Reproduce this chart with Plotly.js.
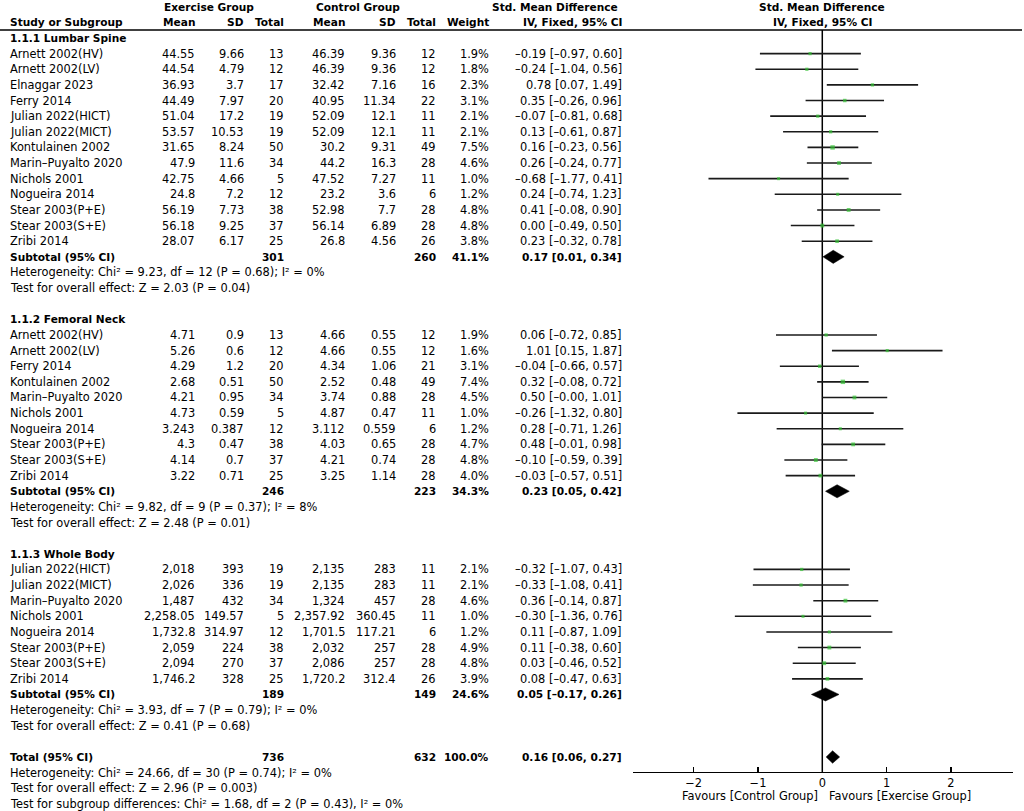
<!DOCTYPE html>
<html><head><meta charset="utf-8">
<script src="https://cdn.plot.ly/plotly-3.0.1.min.js"></script>
<style>html,body{margin:0;padding:0;background:#fff}#chart{width:1024px;height:811px}</style>
</head><body><div id="chart"></div>
<script>
// ---------- DATA ----------
const groupTitles = ["1.1.1 Lumbar Spine", "1.1.2 Femoral Neck", "1.1.3 Whole Body"];

const names1 = ["Arnett 2002(HV)","Arnett 2002(LV)","Elnaggar 2023","Ferry 2014","Julian 2022(HICT)","Julian 2022(MICT)","Kontulainen 2002","Marin–Puyalto 2020","Nichols 2001","Nogueira 2014","Stear 2003(P+E)","Stear 2003(S+E)","Zribi 2014"];
const exMean1 = ["44.55","44.54","36.93","44.49","51.04","53.57","31.65","47.9","42.75","24.8","56.19","56.18","28.07"];
const exSD1 = ["9.66","4.79","3.7","7.97","17.2","10.53","8.24","11.6","4.66","7.2","7.73","9.25","6.17"];
const exN1 = [13,12,17,20,19,19,50,34,5,12,38,37,25];
const ctMean1 = ["46.39","46.39","32.42","40.95","52.09","52.09","30.2","44.2","47.52","23.2","52.98","56.14","26.8"];
const ctSD1 = ["9.36","9.36","7.16","11.34","12.1","12.1","9.31","16.3","7.27","3.6","7.7","6.89","4.56"];
const ctN1 = [12,12,16,22,11,11,49,28,11,6,28,28,26];
const weight1 = [1.9,1.8,2.3,3.1,2.1,2.1,7.5,4.6,1.0,1.2,4.8,4.8,3.8];
const smd1 = [-0.19,-0.24,0.78,0.35,-0.07,0.13,0.16,0.26,-0.68,0.24,0.41,0.00,0.23];
const lo1 = [-0.97,-1.04,0.07,-0.26,-0.81,-0.61,-0.23,-0.24,-1.77,-0.74,-0.08,-0.49,-0.32];
const hi1 = [0.60,0.56,1.49,0.96,0.68,0.87,0.56,0.77,0.41,1.23,0.90,0.50,0.78];

const names2 = ["Arnett 2002(HV)","Arnett 2002(LV)","Ferry 2014","Kontulainen 2002","Marin–Puyalto 2020","Nichols 2001","Nogueira 2014","Stear 2003(P+E)","Stear 2003(S+E)","Zribi 2014"];
const exMean2 = ["4.71","5.26","4.29","2.68","4.21","4.73","3.243","4.3","4.14","3.22"];
const exSD2 = ["0.9","0.6","1.2","0.51","0.95","0.59","0.387","0.47","0.7","0.71"];
const exN2 = [13,12,20,50,34,5,12,38,37,25];
const ctMean2 = ["4.66","4.66","4.34","2.52","3.74","4.87","3.112","4.03","4.21","3.25"];
const ctSD2 = ["0.55","0.55","1.06","0.48","0.88","0.47","0.559","0.65","0.74","1.14"];
const ctN2 = [12,12,21,49,28,11,6,28,28,28];
const weight2 = [1.9,1.6,3.1,7.4,4.5,1.0,1.2,4.7,4.8,4.0];
const smd2 = [0.06,1.01,-0.04,0.32,0.50,-0.26,0.28,0.48,-0.10,-0.03];
const lo2 = [-0.72,0.15,-0.66,-0.08,-0.00,-1.32,-0.71,-0.01,-0.59,-0.57];
const hi2 = [0.85,1.87,0.57,0.72,1.01,0.80,1.26,0.98,0.39,0.51];

const names3 = ["Julian 2022(HICT)","Julian 2022(MICT)","Marin–Puyalto 2020","Nichols 2001","Nogueira 2014","Stear 2003(P+E)","Stear 2003(S+E)","Zribi 2014"];
const exMean3 = ["2,018","2,026","1,487","2,258.05","1,732.8","2,059","2,094","1,746.2"];
const exSD3 = ["393","336","432","149.57","314.97","224","270","328"];
const exN3 = [19,19,34,5,12,38,37,25];
const ctMean3 = ["2,135","2,135","1,324","2,357.92","1,701.5","2,032","2,086","1,720.2"];
const ctSD3 = ["283","283","457","360.45","117.21","257","257","312.4"];
const ctN3 = [11,11,28,11,6,28,28,26];
const weight3 = [2.1,2.1,4.6,1.0,1.2,4.9,4.8,3.9];
const smd3 = [-0.32,-0.33,0.36,-0.30,0.11,0.11,0.03,0.08];
const lo3 = [-1.07,-1.08,-0.14,-1.36,-0.87,-0.38,-0.46,-0.47];
const hi3 = [0.43,0.41,0.87,0.76,1.09,0.60,0.52,0.63];

const subExN = [301,246,189];
const subCtN = [260,223,149];
const subWeight = ["41.1%","34.3%","24.6%"];
const subSmd = [0.17,0.23,0.05];
const subLo = [0.01,0.05,-0.17];
const subHi = [0.34,0.42,0.26];
const subHet = [
  "Heterogeneity: Chi² = 9.23, df = 12 (P = 0.68); I² = 0%",
  "Heterogeneity: Chi² = 9.82, df = 9 (P = 0.37); I² = 8%",
  "Heterogeneity: Chi² = 3.93, df = 7 (P = 0.79); I² = 0%"];
const subTest = [
  "Test for overall effect: Z = 2.03 (P = 0.04)",
  "Test for overall effect: Z = 2.48 (P = 0.01)",
  "Test for overall effect: Z = 0.41 (P = 0.68)"];

const totExN = 736, totCtN = 632, totWeight = "100.0%";
const totSmd = 0.16, totLo = 0.06, totHi = 0.27;
const totNotes = [
  "Heterogeneity: Chi² = 24.66, df = 30 (P = 0.74); I² = 0%",
  "Test for overall effect: Z = 2.96 (P = 0.003)",
  "Test for subgroup differences: Chi² = 1.68, df = 2 (P = 0.43), I² = 0%"];

const tickVals = [-2,-1,0,1,2];
const favLeft = "Favours [Control Group]";
const favRight = "Favours [Exercise Group]";

// ---------- LAYOUT CONSTANTS ----------
const W = 1024, H = 811;
const ROW0 = 38, ROWH = 15.63;
const FONT = 'DejaVu Sans';
const REG = 11.4, BOLDS = 10.6;
const NAME_X = 10;
const col = {exMean:194.5, exSD:244.3, exN:284.3, ctMean:344.5, ctSD:396, ctN:435.7, w:489, ci:622};
const GREEN = '#35c235', LINEC = '#1a1a1a';

const yTop = -ROW0 / ROWH;
const yBot = (H - ROW0) / ROWH;

const annotations = [];
function ann(text, px, row, anchor, bold) {
  annotations.push({
    text: text, x: px / W, xref: 'paper', y: row, yref: 'y',
    xanchor: anchor, yanchor: 'middle', showarrow: false,
    borderpad: 0, borderwidth: 0,
    font: {family: FONT, size: bold ? BOLDS : REG, color: '#000', weight: bold ? 'bold' : 'normal'}
  });
}
function fmt(v) {
  const neg = v < 0 || Object.is(v, -0);
  return (neg ? '–' : '') + Math.abs(v).toFixed(2);
}
function ciText(m, l, h) { return fmt(m) + ' [' + fmt(l) + ', ' + fmt(h) + ']'; }

const groups = [
  {names:names1, exMean:exMean1, exSD:exSD1, exN:exN1, ctMean:ctMean1, ctSD:ctSD1, ctN:ctN1, w:weight1, smd:smd1, lo:lo1, hi:hi1},
  {names:names2, exMean:exMean2, exSD:exSD2, exN:exN2, ctMean:ctMean2, ctSD:ctSD2, ctN:ctN2, w:weight2, smd:smd2, lo:lo2, hi:hi2},
  {names:names3, exMean:exMean3, exSD:exSD3, exN:exN3, ctMean:ctMean3, ctSD:ctSD3, ctN:ctN3, w:weight3, smd:smd3, lo:lo3, hi:hi3}
];

// header
ann('Exercise Group', 209, -2, 'center', true);
ann('Control Group', 358, -2, 'center', true);
ann('Std. Mean Difference', 618, -2, 'right', true);
ann('Std. Mean Difference', 822, -2, 'center', true);
ann('Study or Subgroup', NAME_X, -1, 'left', true);
ann('Mean', col.exMean, -1, 'right', true);
ann('SD', col.exSD, -1, 'right', true);
ann('Total', col.exN, -1, 'right', true);
ann('Mean', col.ctMean, -1, 'right', true);
ann('SD', col.ctSD, -1, 'right', true);
ann('Total', col.ctN, -1, 'right', true);
ann('Weight', col.w, -1, 'right', true);
ann('IV, Fixed, 95% CI', col.ci, -1, 'right', true);
ann('IV, Fixed, 95% CI', 822, -1, 'center', true);

const ciX = [], ciY = [];
const ptX = [], ptY = [], ptS = [];
const diaX = [], diaY = [];
const DH = 0.42;

let r = 0;
groups.forEach((g, gi) => {
  ann(groupTitles[gi], NAME_X, r, 'left', true); r++;
  g.names.forEach((nm, i) => {
    ann(nm, NAME_X, r, 'left', false);
    ann(g.exMean[i], col.exMean, r, 'right', false);
    ann(g.exSD[i], col.exSD, r, 'right', false);
    ann(String(g.exN[i]), col.exN, r, 'right', false);
    ann(g.ctMean[i], col.ctMean, r, 'right', false);
    ann(g.ctSD[i], col.ctSD, r, 'right', false);
    ann(String(g.ctN[i]), col.ctN, r, 'right', false);
    ann(g.w[i].toFixed(1) + '%', col.w, r, 'right', false);
    ann(ciText(g.smd[i], g.lo[i], g.hi[i]), col.ci, r, 'right', false);
    ciX.push(g.lo[i], g.hi[i], null); ciY.push(r, r, null);
    ptX.push(g.smd[i]); ptY.push(r); ptS.push(2.8 + g.w[i] * 0.22);
    r++;
  });
  ann('Subtotal (95% CI)', NAME_X, r, 'left', true);
  ann(String(subExN[gi]), col.exN, r, 'right', true);
  ann(String(subCtN[gi]), col.ctN, r, 'right', true);
  ann(subWeight[gi], col.w, r, 'right', true);
  ann(ciText(subSmd[gi], subLo[gi], subHi[gi]), col.ci, r, 'right', true);
  diaX.push(subLo[gi], subSmd[gi], subHi[gi], subSmd[gi], subLo[gi], null);
  diaY.push(r, r - DH, r, r + DH, r, null);
  r++;
  ann(subHet[gi], NAME_X, r, 'left', false); r++;
  ann(subTest[gi], NAME_X, r, 'left', false); r += 2;
});
ann('Total (95% CI)', NAME_X, r, 'left', true);
ann(String(totExN), col.exN, r, 'right', true);
ann(String(totCtN), col.ctN, r, 'right', true);
ann(totWeight, col.w, r, 'right', true);
ann(ciText(totSmd, totLo, totHi), col.ci, r, 'right', true);
diaX.push(totLo, totSmd, totHi, totSmd, totLo, null);
diaY.push(r, r - 0.4, r, r + 0.4, r, null);
r++;
totNotes.forEach(t => { ann(t, NAME_X, r, 'left', false); r++; });

// favours labels
annotations.push({text: favLeft, x: 819 / W, xref: 'paper', y: 1 - 796 / H, yref: 'paper', xanchor: 'right', yanchor: 'middle', showarrow: false, borderpad: 0, font: {family: FONT, size: REG, color: '#000'}});
annotations.push({text: favRight, x: 828 / W, xref: 'paper', y: 1 - 796 / H, yref: 'paper', xanchor: 'left', yanchor: 'middle', showarrow: false, borderpad: 0, font: {family: FONT, size: REG, color: '#000'}});

const traces = [
  {x: ciX, y: ciY, type: 'scatter', mode: 'lines', line: {color: LINEC, width: 1.6}, hoverinfo: 'skip', cliponaxis: false},
  {x: diaX, y: diaY, type: 'scatter', mode: 'lines', fill: 'toself', fillcolor: '#000', line: {color: '#000', width: 0.5}, hoverinfo: 'skip'},
  {x: ptX, y: ptY, type: 'scatter', mode: 'markers', marker: {symbol: 'square', size: ptS, color: GREEN, line: {width: 0}}, hoverinfo: 'skip', cliponaxis: false}
];

const shapes = [
  {type: 'line', xref: 'paper', yref: 'paper', x0: 0, x1: 1022 / W, y0: 1 - 30 / H, y1: 1 - 30 / H, line: {color: '#000', width: 1.5}},
  {type: 'line', xref: 'x', yref: 'paper', x0: 0, x1: 0, y0: 1 - 30 / H, y1: 1 - 772 / H, line: {color: '#000', width: 1.5}, layer: 'below'}
];

const layout = {
  width: W, height: H,
  margin: {l: 0, r: 0, t: 0, b: 0, pad: 0},
  paper_bgcolor: '#fff', plot_bgcolor: 'rgba(0,0,0,0)',
  showlegend: false,
  font: {family: FONT, size: REG, color: '#000'},
  xaxis: {
    domain: [633 / W, 1013 / W], range: [-2.944, 2.966],
    anchor: 'free', position: 1 - 772 / H,
    showline: true, linecolor: '#000', linewidth: 1.4,
    ticks: 'inside', ticklen: 5, tickwidth: 1.3, tickcolor: '#000',
    tickmode: 'array', tickvals: tickVals,
    showgrid: false, zeroline: false, fixedrange: true,
    tickfont: {family: FONT, size: REG, color: '#000'}
  },
  yaxis: {domain: [0, 1], range: [yBot, yTop], visible: false, showgrid: false, zeroline: false, fixedrange: true},
  annotations: annotations,
  shapes: shapes
};

Plotly.newPlot('chart', traces, layout, {displayModeBar: false, staticPlot: true});
</script></body></html>
